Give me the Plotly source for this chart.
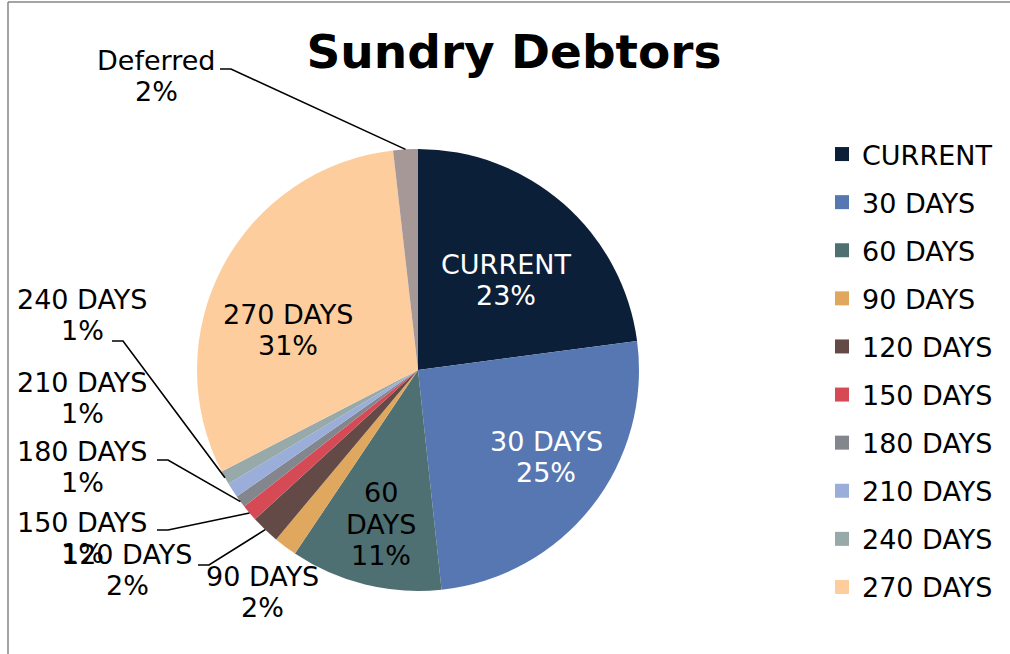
import math
import plotly.graph_objects as go

# ---------------- data ----------------
categories = ["CURRENT", "30 DAYS", "60 DAYS", "90 DAYS", "120 DAYS", "150 DAYS",
              "180 DAYS", "210 DAYS", "240 DAYS", "270 DAYS", "Deferred"]
shares = [22.9, 25.4, 11.1, 1.7, 2.1, 1.2, 0.9, 1.1, 1.0, 30.8, 1.8]
colors = ["#0C1F38", "#5677B2", "#4F7073", "#E0A85E", "#644A47", "#D54A54",
          "#84868E", "#9BAED9", "#97A9A9", "#FDCD9E", "#A59896"]
legend_categories = categories[:10]   # the legend box is cut off before "Deferred"
title_text = "Sundry Debtors"

# ---------------- layout constants (pixels) ----------------
W, H = 1010, 654
CX, CY, R = 418, 370, 221
FONT = "DejaVu Sans"
FS = 27
LINE_GAP = 31.5

# label block centres (pixels) and text colours
label_pos = {
    "CURRENT": (506, 280), "30 DAYS": (546, 457), "60 DAYS": (381, 524),
    "270 DAYS": (288, 330), "Deferred": (156, 76), "240 DAYS": (82, 315),
    "210 DAYS": (82, 398), "180 DAYS": (82, 467), "150 DAYS": (82, 538),
    "120 DAYS": (127, 570), "90 DAYS": (262, 592),
}
label_lines = {"60 DAYS": ["60", "DAYS"]}
white_labels = {"CURRENT", "30 DAYS"}
# leader line: start of the horizontal tick near the text (pixels)
leader_start = {
    "Deferred": (220, 69), "240 DAYS": (112, 341), "180 DAYS": (157, 460),
    "150 DAYS": (157, 530), "120 DAYS": (198, 565),
}
TICK = 11


def X(px):
    return px / W


def Y(py):
    return 1 - py / H


fig = go.Figure()

fig.add_trace(go.Pie(
    labels=categories, values=shares, sort=False, direction="clockwise", rotation=0,
    marker=dict(colors=colors, line=dict(width=0)),
    textinfo="none", showlegend=False, hoverinfo="label+percent",
    domain=dict(x=[X(CX - R), X(CX + R)], y=[Y(CY + R), Y(CY - R)]),
))

# legend entries
for cat, col in zip(legend_categories, colors):
    fig.add_trace(go.Scatter(
        x=[None], y=[None], mode="markers", name=cat, legendgroup=cat,
        marker=dict(symbol="square", size=14, color=col),
    ))

total = sum(shares)
cum = 0.0
annotations = []
shapes = []
for cat, v in zip(categories, shares):
    mid = (cum + v / 2) / total * 2 * math.pi
    cum += v
    ex = CX + R * math.sin(mid)
    ey = CY - R * math.cos(mid)
    pct = f"{round(100 * v / total)}%"
    lines = label_lines.get(cat, [cat]) + [pct]
    lx, ly = label_pos[cat]
    n = len(lines)
    for i, txt in enumerate(lines):
        yy = ly + (i - (n - 1) / 2) * LINE_GAP
        annotations.append(dict(
            x=X(lx), y=Y(yy), xref="paper", yref="paper", xanchor="center", yanchor="middle",
            text=txt, showarrow=False, align="center",
            font=dict(family=FONT, size=FS, color="white" if cat in white_labels else "black"),
        ))
    if cat in leader_start:
        sx, sy = leader_start[cat]
        path = f"M {X(sx)} {Y(sy)} L {X(sx + TICK)} {Y(sy)} L {X(ex)} {Y(ey)}"
        shapes.append(dict(type="path", xref="paper", yref="paper", path=path,
                           line=dict(color="black", width=1.6)))

# chart border (only top and left edges are visible in the frame)
shapes.append(dict(type="line", xref="paper", yref="paper",
                   x0=X(8), y0=Y(2), x1=1, y1=Y(2), line=dict(color="#868686", width=1.5)))
shapes.append(dict(type="line", xref="paper", yref="paper",
                   x0=X(8), y0=Y(2), x1=X(8), y1=0, line=dict(color="#868686", width=1.5)))

fig.update_layout(
    width=W, height=H, autosize=False,
    margin=dict(l=0, r=0, t=0, b=0),
    paper_bgcolor="white", plot_bgcolor="white",
    title=dict(text=f"<b>{title_text}</b>", x=X(514), y=Y(52), xanchor="center", yanchor="middle",
               font=dict(family=FONT, size=47, color="black")),
    xaxis=dict(visible=False), yaxis=dict(visible=False),
    legend=dict(x=X(822), y=Y(130), xanchor="left", yanchor="top",
                font=dict(family=FONT, size=FS, color="black"),
                tracegroupgap=10, bgcolor="rgba(0,0,0,0)"),
    annotations=annotations, shapes=shapes,
    showlegend=True,
)

fig.write_html("out.html", config={"displayModeBar": False},
               post_script="document.body.style.margin='0';document.body.style.overflow='hidden';")
